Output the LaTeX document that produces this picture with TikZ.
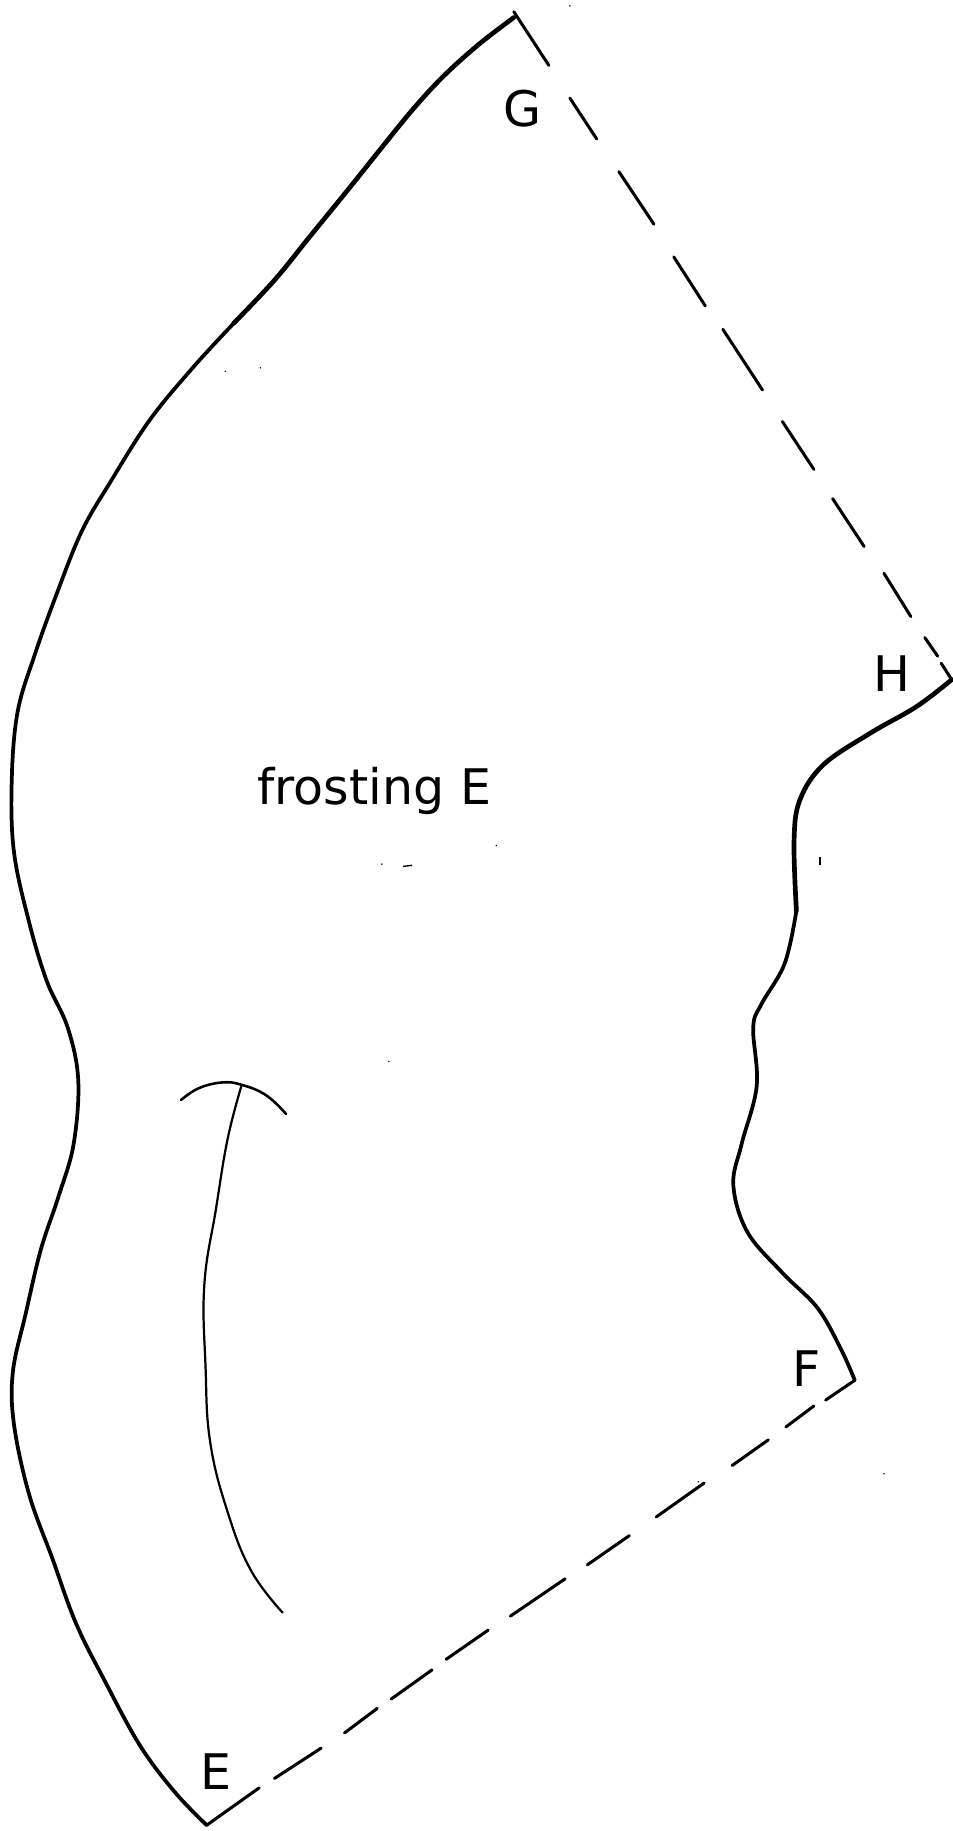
\documentclass[tikz,border=0pt]{standalone}
\usepackage{fontspec}
\setmainfont{DejaVu Sans}
\tikzset{
  outline/.style={line width=3.2pt,line join=round,line cap=round,black},
  thinpart/.style={line width=2.6pt,line join=round,line cap=round,black},
  inner/.style={line width=2.2pt,line join=round,line cap=round,black},
  lab/.style={font=\fontsize{42}{50}\selectfont,inner sep=0pt,text=black}
}
\begin{document}
\begin{tikzpicture}[x=1pt,y=-1pt]
\useasboundingbox (0,0) rectangle (816,1568);
% left outline
\draw[outline,line width=4pt] plot[smooth,tension=0.6] coordinates {(440,15)(410,38)(380,65)(355,92)(332,120)(300,160)(265,203)(235,240)(200,277)};
\draw[outline] plot[smooth,tension=0.6] coordinates {(200,277)(165,315)(128,360)(95,412)(70,455)(48,510)(30,560)(15,610)(10,670)(12,730)(25,790)(40,840)(58,880)(67,925)(63,980)(50,1025)(35,1070)(22,1125)(11,1175)(12,1220)(25,1280)(45,1335)(65,1390)(90,1440)(120,1495)(150,1535)(177,1563)};
% right outline
\draw[outline,line width=4pt] plot[smooth,tension=0.6] coordinates {(815,582)(785,605)(745,628)(705,655)(685,685)(680,720)(682,780)};
\draw[outline] plot[smooth,tension=0.6] coordinates {(682,780)(672,825)(652,860)(645,880)(648,930)(635,980)(628,1015)(640,1055)(670,1090)(700,1120)(720,1155)(732,1182)};
% G-H dashes
\foreach \a/\b in {{(440,10)}/{(470,56)},{(488,84)}/{(511,119)},{(530,147)}/{(560,192)},{(577,220)}/{(604,262)},{(619,282)}/{(653,334)},{(670,361)}/{(697,402)},{(713,427)}/{(740,468)},{(757,491)}/{(780,528)},{(792,546)}/{(803,562)},{(806,568)}/{(815,582)}}
  \draw[thinpart] \a -- \b;
% F-E dashes
\foreach \a/\b in {{(732,1182)}/{(707,1199)},{(697,1204)}/{(673,1222)},{(658,1233)}/{(627,1255)},{(603,1270)}/{(562,1299)},{(539,1315)}/{(503,1340)},{(484,1352)}/{(437,1384)},{(418,1396)}/{(382,1421)},{(370,1430)}/{(335,1455)},{(323,1463)}/{(295,1484)},{(275,1497)}/{(235,1523)},{(222,1531)}/{(177,1563)}}
  \draw[thinpart] \a -- \b;
% inner mark
\draw[inner] plot[smooth,tension=0.7] coordinates {(155,942)(170,932)(190,927)(207,929)(228,938)(245,954)};
\draw[inner,line width=1.9pt] plot[smooth,tension=0.7] coordinates {(207,929)(195,975)(185,1035)(175,1100)(176,1170)(180,1235)(195,1295)(215,1345)(242,1381)};
% specks
\foreach \p in {(488,5),(193,318),(223,315),(327,740),(425,724),(333,909),(757,1262),(598,1269)}
  \fill[black] \p circle (0.7pt);
\draw[black,line width=1.2pt] (345,742) -- (353,741);
\draw[black,line width=1.5pt] (702,734) -- (702,741);
% labels
\node[lab] (g) at (447.5,93) {G};
\node[lab] (h) at (763.5,576.5) {H};
\node[lab] (f) at (690.5,1172) {F};
\node[lab] (e) at (185,1517) {E};
\node[lab] (t) at (320.5,677) {frosting E};
\end{tikzpicture}
\end{document}
